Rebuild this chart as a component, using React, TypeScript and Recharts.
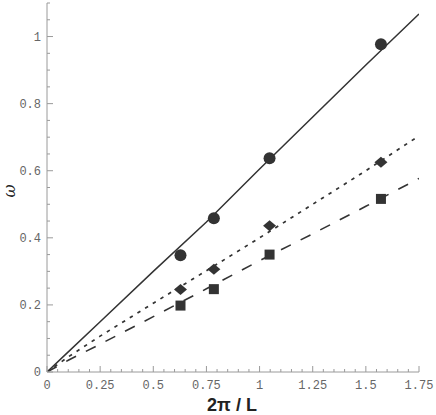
import {
  ComposedChart,
  Line,
  Scatter,
  XAxis,
  YAxis,
} from 'recharts';

// x values (2π/L) of the simulated points
const kPoints = [0.628, 0.785, 1.047, 1.571];
const circleOmega = [0.348, 0.458, 0.637, 0.977];
const diamondOmega = [0.246, 0.306, 0.436, 0.625];
const squareOmega = [0.198, 0.247, 0.35, 0.516];

// sampled fit curves
const curveK = [0, 0.1, 0.25, 0.5, 0.75, 1, 1.25, 1.5, 1.75];
const solidCurve = [0, 0.06, 0.15, 0.3, 0.447, 0.605, 0.76, 0.915, 1.067];
const dottedCurve = [0, 0.045, 0.107, 0.205, 0.302, 0.4, 0.5, 0.6, 0.704];
const dashedCurve = [0, 0.035, 0.083, 0.165, 0.248, 0.332, 0.412, 0.494, 0.577];

const xTicks = Array.from({ length: 36 }, (_, i) => +(i * 0.05).toFixed(2));
const yTicks = Array.from({ length: 23 }, (_, i) => +(i * 0.05).toFixed(2));

const curveData = curveK.map((k, i) => ({
  k,
  solid: solidCurve[i],
  dotted: dottedCurve[i],
  dashed: dashedCurve[i],
}));

const toPoints = (vals: number[]) => kPoints.map((k, i) => ({ k, w: vals[i] }));

const ink = '#333';
const frame = '#9a9a9a';
const mono = '"Liberation Mono", "DejaVu Sans Mono", monospace';

const isMajorX = (v: number) => Math.abs(v / 0.25 - Math.round(v / 0.25)) < 1e-6;
const isMajorY = (v: number) => Math.abs(v / 0.2 - Math.round(v / 0.2)) < 1e-6 && v <= 1.0001;

const fmt = (v: number) => String(+v.toFixed(2));

function BottomTick(props: any) {
  const { x, y, payload } = props;
  const major = isMajorX(payload.value);
  return (
    <g>
      <line x1={x} x2={x} y1={y} y2={y - (major ? 6 : 3)} stroke={frame} />
      {major && (
        <text x={x} y={y + 17} textAnchor="middle" fontFamily={mono} fontSize={12} fill="#666">
          {fmt(payload.value)}
        </text>
      )}
    </g>
  );
}

function TopTick(props: any) {
  const { x, y, payload } = props;
  const major = isMajorX(payload.value);
  return <line x1={x} x2={x} y1={y} y2={y + (major ? 6 : 3)} stroke={frame} />;
}

function LeftTick(props: any) {
  const { x, y, payload } = props;
  const major = isMajorY(payload.value);
  return (
    <g>
      <line x1={x} x2={x + (major ? 6 : 3)} y1={y} y2={y} stroke={frame} />
      {major && (
        <text x={x - 6} y={y + 4} textAnchor="end" fontFamily={mono} fontSize={12} fill="#666">
          {fmt(payload.value)}
        </text>
      )}
    </g>
  );
}

function RightTick(props: any) {
  const { x, y, payload } = props;
  const major = isMajorY(payload.value);
  return <line x1={x} x2={x - (major ? 6 : 3)} y1={y} y2={y} stroke={frame} />;
}

const CircleMark = (p: any) => <circle cx={p.cx} cy={p.cy} r={6} fill={ink} />;
const DiamondMark = (p: any) => (
  <path
    d={`M${p.cx},${p.cy - 5.5}L${p.cx + 6.5},${p.cy}L${p.cx},${p.cy + 5.5}L${p.cx - 6.5},${p.cy}Z`}
    fill={ink}
  />
);
const SquareMark = (p: any) => <rect x={p.cx - 5} y={p.cy - 5} width={10} height={10} fill={ink} />;

export default function App() {
  return (
    <div style={{ position: 'absolute', left: 0, top: 0, width: 436, height: 415, background: '#fff' }}>
      <ComposedChart
        width={436}
        height={415}
        data={curveData}
        margin={{ top: 3, right: 17, bottom: 0, left: 0 }}
      >
        <XAxis
          xAxisId="b"
          dataKey="k"
          type="number"
          domain={[0, 1.75]}
          ticks={xTicks}
          interval={0}
          height={43}
          tickSize={0}
          tickMargin={0}
          tickLine={false}
          axisLine={{ stroke: frame }}
          tick={<BottomTick />}
          allowDataOverflow
        />
        <XAxis
          xAxisId="t"
          orientation="top"
          dataKey="k"
          type="number"
          domain={[0, 1.75]}
          ticks={xTicks}
          interval={0}
          height={0}
          tickSize={0}
          tickMargin={0}
          tickLine={false}
          axisLine={{ stroke: frame }}
          tick={<TopTick />}
        />
        <YAxis
          yAxisId="l"
          type="number"
          domain={[0, 1.1]}
          ticks={yTicks}
          interval={0}
          width={47}
          tickSize={0}
          tickMargin={0}
          tickLine={false}
          axisLine={{ stroke: frame }}
          tick={<LeftTick />}
          allowDataOverflow
        />
        <YAxis
          yAxisId="r"
          orientation="right"
          type="number"
          domain={[0, 1.1]}
          ticks={yTicks}
          interval={0}
          width={0}
          tickSize={0}
          tickMargin={0}
          tickLine={false}
          axisLine={{ stroke: frame }}
          tick={<RightTick />}
        />
        <Line
          xAxisId="b"
          yAxisId="l"
          type="linear"
          dataKey="solid"
          stroke={ink}
          strokeWidth={1.5}
          dot={false}
          isAnimationActive={false}
        />
        <Line
          xAxisId="b"
          yAxisId="l"
          type="linear"
          dataKey="dotted"
          stroke={ink}
          strokeWidth={1.7}
          strokeDasharray="3.5 5.5"
          dot={false}
          isAnimationActive={false}
        />
        <Line
          xAxisId="b"
          yAxisId="l"
          type="linear"
          dataKey="dashed"
          stroke={ink}
          strokeWidth={1.6}
          strokeDasharray="11 11"
          dot={false}
          isAnimationActive={false}
        />
        <Scatter xAxisId="b" yAxisId="l" data={toPoints(circleOmega)} dataKey="w" shape={CircleMark} isAnimationActive={false} />
        <Scatter xAxisId="b" yAxisId="l" data={toPoints(diamondOmega)} dataKey="w" shape={DiamondMark} isAnimationActive={false} />
        <Scatter xAxisId="b" yAxisId="l" data={toPoints(squareOmega)} dataKey="w" shape={SquareMark} isAnimationActive={false} />
        <text
          x={232}
          y={411}
          textAnchor="middle"
          fontFamily='"Liberation Sans", Arial, sans-serif'
          fontWeight="bold"
          fontSize={18}
          fill="#222"
        >
          2π / L
        </text>
        <text
          x={15}
          y={191}
          textAnchor="middle"
          transform="rotate(-90 15 191)"
          fontFamily='"DejaVu Serif", serif'
          fontStyle="italic"
          fontSize={16}
          fill="#222"
        >
          ω
        </text>
      </ComposedChart>
    </div>
  );
}
